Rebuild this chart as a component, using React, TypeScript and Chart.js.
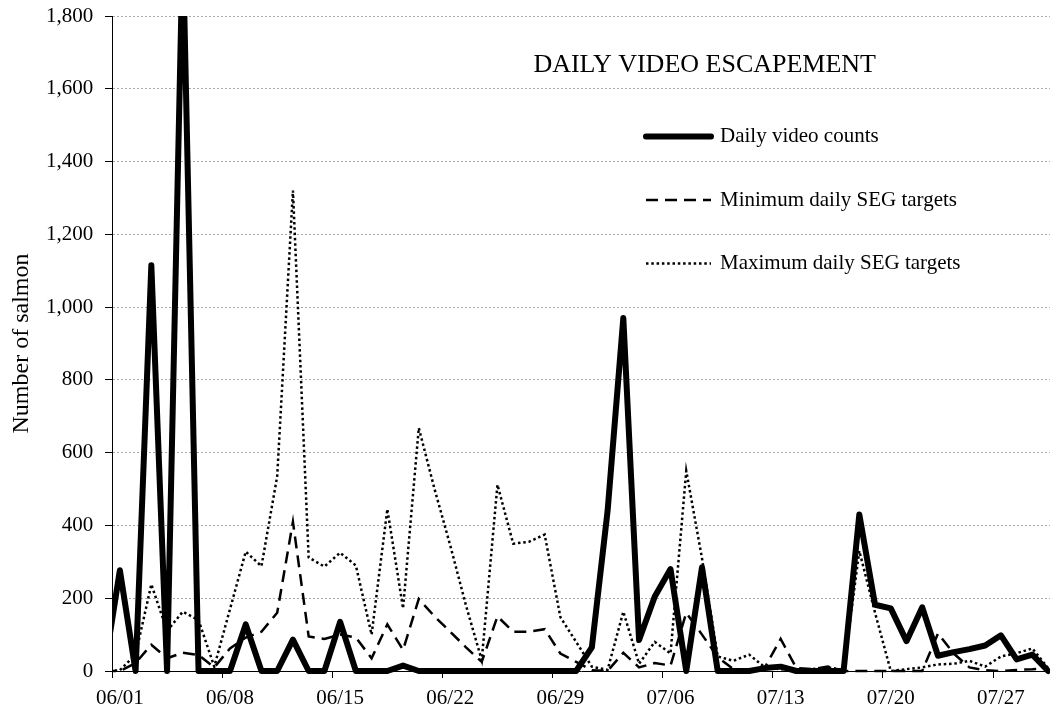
import { useEffect, useRef } from 'react';
import { Chart, registerables } from 'chart.js';

Chart.register(...registerables);

// Daily records, 05/31 through 07/30 (05/31 sits just left of the plotted range)
const days = [
  '05/31',
  '06/01', '06/02', '06/03', '06/04', '06/05', '06/06', '06/07', '06/08', '06/09', '06/10',
  '06/11', '06/12', '06/13', '06/14', '06/15', '06/16', '06/17', '06/18', '06/19', '06/20',
  '06/21', '06/22', '06/23', '06/24', '06/25', '06/26', '06/27', '06/28', '06/29', '06/30',
  '07/01', '07/02', '07/03', '07/04', '07/05', '07/06', '07/07', '07/08', '07/09', '07/10',
  '07/11', '07/12', '07/13', '07/14', '07/15', '07/16', '07/17', '07/18', '07/19', '07/20',
  '07/21', '07/22', '07/23', '07/24', '07/25', '07/26', '07/27', '07/28', '07/29', '07/30',
];

const videoCounts = [
  0,
  277, 0, 1115, 0, 2000, 0, 0, 0, 128, 0,
  0, 86, 0, 0, 135, 0, 0, 0, 15, 0,
  0, 0, 0, 0, 0, 0, 0, 0, 0, 0,
  65, 440, 970, 85, 205, 280, 0, 285, 0, 0,
  0, 8, 12, 0, 0, 0, 0, 430, 182, 172,
  82, 175, 42, 52, 60, 70, 98, 32, 45, 0,
];

const minTargets = [
  0,
  0, 22, 72, 35, 50, 44, 10, 62, 92, 108,
  160, 410, 95, 88, 100, 92, 35, 128, 58, 198,
  150, 108, 65, 25, 150, 108, 108, 115, 48, 25,
  2, 0, 50, 10, 22, 15, 160, 100, 38, 5,
  3, 10, 88, 8, 5, 12, 0, 0, 0, 0,
  0, 0, 103, 48, 10, 2, 0, 3, 5, 8,
];

const maxTargets = [
  0,
  2, 45, 238, 110, 163, 140, 12, 170, 328, 288,
  535, 1320, 312, 287, 325, 290, 100, 445, 172, 668,
  500, 345, 180, 30, 512, 350, 355, 375, 148, 80,
  12, 3, 163, 20, 80, 48, 550, 310, 40, 28,
  45, 10, 5, 3, 5, 10, 3, 330, 160, 0,
  5, 10, 18, 20, 28, 12, 40, 49, 62, 8,
];

const xTickLabels = ['06/01', '06/08', '06/15', '06/22', '06/29', '07/06', '07/13', '07/20', '07/27'];
const yTicks = [0, 200, 400, 600, 800, 1000, 1200, 1400, 1600, 1800];

const seriesNames = ['Daily video counts', 'Minimum daily SEG targets', 'Maximum daily SEG targets'];
const chartTitle = 'DAILY VIDEO ESCAPEMENT';
const yAxisTitle = 'Number of salmon';

const SERIF = "'Liberation Serif', 'Times New Roman', Times, serif";
const FIRST_DAY = '06/01';

// x position: day offset from 06/01, so each day's point sits mid-way between weekly tick marks
const toPoints = (values: number[]) =>
  values.map((v, k) => ({ x: k - days.indexOf(FIRST_DAY), y: v }));

// Title and legend inside the plot area
const overlayPlugin = {
  id: 'overlay',
  afterDraw(chart: any) {
    const ctx: CanvasRenderingContext2D = chart.ctx;
    ctx.save();
    ctx.fillStyle = '#000';
    ctx.font = `26px ${SERIF}`;
    ctx.textAlign = 'right';
    ctx.textBaseline = 'alphabetic';
    ctx.fillText(chartTitle, 876, 72);

    chart.data.datasets.forEach((ds: any, k: number) => {
      const y = 136.5 + k * 63.5;
      ctx.beginPath();
      ctx.strokeStyle = ds.borderColor;
      ctx.lineWidth = ds.borderWidth;
      ctx.lineCap = ds.borderCapStyle || 'butt';
      ctx.setLineDash(ds.borderDash || []);
      ctx.moveTo(646, y);
      ctx.lineTo(711, y);
      ctx.stroke();
      ctx.setLineDash([]);
      ctx.font = `21px ${SERIF}`;
      ctx.textAlign = 'left';
      ctx.textBaseline = 'middle';
      ctx.fillText(ds.label, 720, y);
    });
    ctx.restore();
  },
};

export default function App() {
  const canvasRef = useRef<HTMLCanvasElement>(null);

  useEffect(() => {
    const canvas = canvasRef.current;
    if (!canvas) return;
    const clip = { left: 0, top: 0, right: 8, bottom: 8 };
    const chart = new Chart(canvas, {
      type: 'line',
      data: {
        datasets: [
          {
            label: seriesNames[0],
            data: toPoints(videoCounts),
            borderColor: '#000',
            borderWidth: 6,
            borderCapStyle: 'round',
            borderJoinStyle: 'round',
            pointRadius: 0,
            tension: 0,
            clip,
          },
          {
            label: seriesNames[1],
            data: toPoints(minTargets),
            borderColor: '#000',
            borderWidth: 2.5,
            borderDash: [12, 7],
            borderCapStyle: 'butt',
            pointRadius: 0,
            tension: 0,
            clip,
          },
          {
            label: seriesNames[2],
            data: toPoints(maxTargets),
            borderColor: '#000',
            borderWidth: 2.5,
            borderDash: [2.5, 2.8],
            borderCapStyle: 'butt',
            pointRadius: 0,
            tension: 0,
            clip,
          },
        ] as any,
      },
      options: {
        responsive: false,
        animation: false,
        devicePixelRatio: 1,
        layout: { padding: { top: 16, right: 0, bottom: 0, left: 0 } },
        plugins: {
          legend: { display: false },
          tooltip: { enabled: false },
          title: { display: false },
        },
        scales: {
          x: {
            type: 'linear',
            min: -0.5,
            max: 59.12,
            afterFit: (scale: any) => {
              scale.height = 40;
            },
            afterBuildTicks: (scale: any) => {
              scale.ticks = xTickLabels.map((_, k) => ({ value: -0.5 + 7 * k }));
            },
            ticks: {
              autoSkip: false,
              maxRotation: 0,
              minRotation: 0,
              labelOffset: 7.87,
              padding: 7.5,
              color: '#000',
              font: { family: SERIF, size: 21 },
              callback: (_v: any, index: number) => xTickLabels[index],
            },
            grid: {
              drawOnChartArea: false,
              drawTicks: true,
              tickLength: 7,
              tickColor: '#000',
              tickWidth: 1,
            },
            border: { display: true, color: '#000', width: 1 },
          },
          y: {
            type: 'linear',
            min: yTicks[0],
            max: yTicks[yTicks.length - 1],
            afterFit: (scale: any) => {
              scale.width = 112;
            },
            afterBuildTicks: (scale: any) => {
              scale.ticks = yTicks.map((v) => ({ value: v }));
            },
            ticks: {
              padding: 11.7,
              color: '#000',
              // small line height keeps the top label from pushing the plot area down
              font: { family: SERIF, size: 21, lineHeight: 0.3 },
              callback: (v: any) => Number(v).toLocaleString('en-US'),
            },
            grid: {
              color: (c: any) => (c.tick && c.tick.value === 0 ? 'rgba(0,0,0,0)' : '#a8a8a8'),
              lineWidth: 1,
              drawTicks: true,
              tickLength: 7,
              tickColor: '#000',
              tickWidth: 1,
            },
            border: { display: true, color: '#000', width: 1, dash: [2, 2] },
            title: {
              display: true,
              text: yAxisTitle,
              color: '#000',
              font: { family: SERIF, size: 24 },
              padding: { top: 7, bottom: 0 },
            },
          },
        },
      },
      plugins: [overlayPlugin],
    } as any);
    return () => chart.destroy();
  }, []);

  return (
    <div style={{ position: 'fixed', left: 0, top: 0, width: 1050, height: 711, background: '#fff' }}>
      <canvas ref={canvasRef} width={1050} height={711} style={{ display: 'block' }} />
    </div>
  );
}
